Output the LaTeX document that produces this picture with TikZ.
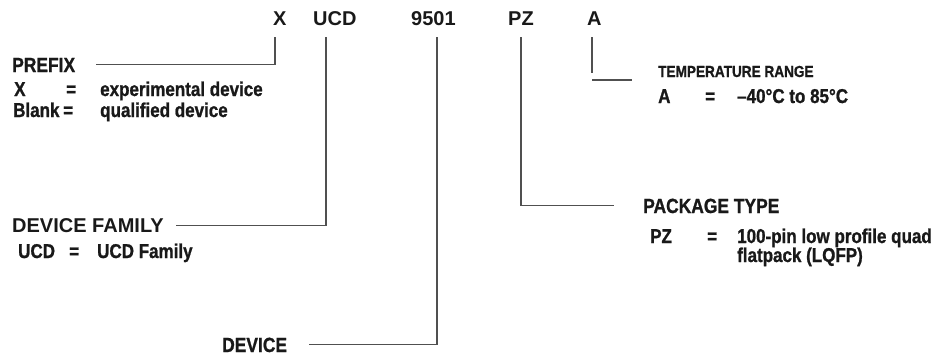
\documentclass[tikz,border=0pt]{standalone}
\usepackage{fontspec}
\setmainfont{Liberation Sans}
\newfontfamily\narrowsf[FakeStretch=0.85,FakeBold=1]{Liberation Sans}
\usetikzlibrary{positioning,calc}
\definecolor{leadgray}{RGB}{80,80,80}
\definecolor{inkblack}{RGB}{25,25,25}

\begin{document}
\begin{tikzpicture}[
      x=1pt, y=-1pt,
      code/.style={anchor=base west, inner sep=0pt, text=inkblack, font=\fontsize{20}{24}\selectfont\bfseries},
      wide/.style={anchor=base west, inner sep=0pt, text=inkblack, font=\fontsize{20}{24}\selectfont\bfseries},
      head/.style={anchor=base west, inner sep=0pt, text=inkblack, font=\narrowsf\fontsize{20.5}{24}\selectfont\bfseries},
      small/.style={anchor=base west, inner sep=0pt, text=inkblack, font=\narrowsf\fontsize{16}{19}\selectfont\bfseries},
      item/.style={anchor=base west, inner sep=0pt, text=inkblack, font=\narrowsf\fontsize{20}{24}\selectfont\bfseries},
      lead/.style={draw=leadgray, line width=1.1pt}
    ]
      \useasboundingbox (0,0) rectangle (938,356);
      % part number
      \node[code] (cX) at (273,25) {X};
      \node[code] (cUCD) at (313,25) {UCD};
      \node[code] (cNum) at (411,25) {9501};
      \node[code] (cPZ) at (508,25) {PZ};
      \node[code] (cA) at (587,25) {A};
      \coordinate (tX) at (275,37);
      \coordinate (tUCD) at (326,37);
      \coordinate (tNum) at (437,37);
      \coordinate (tPZ) at (521,37);
      \coordinate (tA) at (592,37);
      % prefix
      \node[head] (prefix) at (12,72) {PREFIX};
      \node[item] (pfxX) at (14,96) {X};
      \node[item] (pfxXeq) at (66,96) {=};
      \node[item] (pfxXval) at (100,96) {experimental device};
      \node[item] (pfxB) at (13,117) {Blank};
      \node[item] (pfxBeq) at (63,117) {=};
      \node[item] (pfxBval) at (100,117) {qualified device};
      % device family
      \node[wide] (family) at (12,232) {DEVICE FAMILY};
      \node[item] (famUCD) at (18,258) {UCD};
      \node[item] (famEq) at (69,258) {=};
      \node[item] (famVal) at (97,258) {UCD Family};
      % device
      \node[head] (device) at (222,352) {DEVICE};
      % package type
      \node[head] (pkg) at (643,213) {PACKAGE TYPE};
      \node[item] (pkgPZ) at (650,243) {PZ};
      \node[item] (pkgEq) at (707,243) {=};
      \node[item] (pkgVal) at (737,243) {100-pin low profile quad};
      \node[item] (pkgVal2) at (737,262) {flatpack (LQFP)};
      % temperature range
      \node[small] (temp) at (658,77) {TEMPERATURE RANGE};
      \node[item] (tempA) at (658,103) {A};
      \node[item] (tempEq) at (705,103) {=};
      \node[item] (tempVal) at (737,103) {–40°C to 85°C};
      % leader lines
      \draw[lead] (tX) |- ([xshift=21pt]prefix.east);
      \draw[lead] (tUCD) |- ([xshift=12pt]family.east);
      \draw[lead] (tNum) |- ([xshift=22pt]device.east);
      \draw[lead] (tPZ) |- ([xshift=-29pt]pkg.west);
      \coordinate (kA) at (592,80);
      \draw[lead] (tA) -- ++(0,36);
      \draw[lead] (kA) -- ([xshift=-26pt]temp.west |- kA);
    \end{tikzpicture}
\end{document}
